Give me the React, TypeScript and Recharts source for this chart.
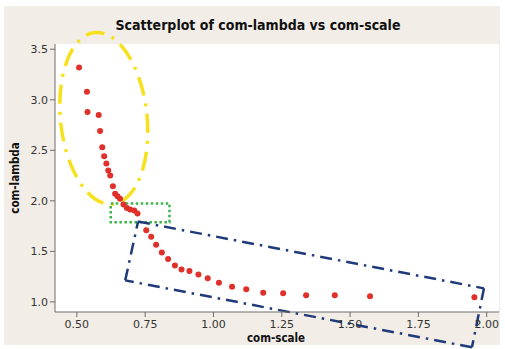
import React from 'react';
import {
  ScatterChart,
  Scatter,
  XAxis,
  YAxis,
  CartesianGrid,
  ReferenceArea,
  ReferenceLine,
} from 'recharts';

// com-scale / com-lambda pairs
const comScale = [
  0.508, 0.537, 0.539, 0.58, 0.585, 0.593, 0.6, 0.608, 0.615, 0.622, 0.632, 0.64, 0.649,
  0.658, 0.671, 0.683, 0.695, 0.71, 0.722, 0.754, 0.772, 0.79, 0.811, 0.834, 0.859, 0.883,
  0.912, 0.945, 0.979, 1.02, 1.068, 1.12, 1.182, 1.255, 1.339, 1.444, 1.573, 1.955,
];
const comLambda = [
  3.32, 3.08, 2.88, 2.85, 2.69, 2.53, 2.44, 2.37, 2.3, 2.25, 2.145, 2.07, 2.045,
  2.02, 1.965, 1.93, 1.915, 1.905, 1.875, 1.71, 1.645, 1.565, 1.49, 1.425, 1.36, 1.32,
  1.305, 1.27, 1.235, 1.19, 1.15, 1.125, 1.09, 1.085, 1.066, 1.065, 1.055, 1.045,
];

const xTicks = [0.5, 0.75, 1.0, 1.25, 1.5, 1.75, 2.0];
const yTicks = [1.0, 1.5, 2.0, 2.5, 3.0, 3.5];

const points = comScale.map((s, i) => ({ scale: s, lambda: comLambda[i] }));

// Highlight regions, in data units
const steepRegion = { x1: 0.44, x2: 0.757, y1: 1.963, y2: 3.67 };
const kneeRegion = { x1: 0.624, x2: 0.839, y1: 1.788, y2: 1.973 };
const flatRegion = [
  { x: 0.724, y: 1.795 },
  { x: 1.99, y: 1.134 },
  { x: 1.946, y: 0.551 },
  { x: 0.677, y: 1.213 },
];

const FONT = '"DejaVu Sans", Verdana, sans-serif';
const LABEL_FONT = '"DejaVu Sans Condensed", "DejaVu Sans", sans-serif';

const Dot = (props: any) => {
  const { cx, cy } = props;
  if (cx == null || cy == null) return null;
  return <circle cx={cx} cy={cy} r={3} fill="#e0302a" />;
};

const EllipseShape = (props: any) => {
  const { x, y, width, height } = props;
  const cx = x + width / 2;
  const cy = y + height / 2;
  return (
    <ellipse
      cx={cx}
      cy={cy}
      rx={Math.abs(width) / 2}
      ry={Math.abs(height) / 2}
      fill="none"
      stroke="#f7e11c"
      strokeWidth={3.5}
      strokeDasharray="19 8 3 8"
      transform={`rotate(-6 ${cx} ${cy})`}
    />
  );
};

const BoxShape = (props: any) => {
  const { x, y, width, height } = props;
  return (
    <rect
      x={x}
      y={y}
      width={width}
      height={height}
      fill="none"
      stroke="#3cb44b"
      strokeWidth={2.5}
      strokeDasharray="2.5 2.5"
    />
  );
};

export default function App() {
  const tickStyle = { fontFamily: FONT, fontSize: 11, fill: '#333' };
  const edges = flatRegion.map((p, i) => [p, flatRegion[(i + 1) % flatRegion.length]]);
  return (
    <div style={{ position: 'absolute', left: 0, top: 0, width: 505, height: 349, background: '#fff' }}>
      <div style={{ position: 'absolute', left: 4, top: 6, width: 496, height: 339, background: '#f2ede6' }} />
      <div style={{ position: 'absolute', left: 0, top: 0 }}>
        <ScatterChart width={505} height={349} margin={{ top: 44, right: 6, bottom: 7, left: 0 }}>
          <CartesianGrid fill="#ffffff" horizontal={false} vertical={false} />
          <XAxis
            type="number"
            dataKey="scale"
            domain={[0.42, 2.045]}
            ticks={xTicks}
            allowDataOverflow
            tickFormatter={(v: number) => v.toFixed(2)}
            tick={tickStyle}
            tickSize={5}
            tickMargin={3}
            height={30}
            stroke="#6d6d6d"
          />
          <YAxis
            type="number"
            dataKey="lambda"
            domain={[0.9, 3.552]}
            ticks={yTicks}
            allowDataOverflow
            tickFormatter={(v: number) => v.toFixed(1)}
            tick={tickStyle}
            tickSize={5}
            tickMargin={2}
            width={55}
            stroke="#6d6d6d"
          />
          <XAxis xAxisId="top" orientation="top" height={0} tick={false} tickLine={false} stroke="#6d6d6d" />
          <YAxis yAxisId="right" orientation="right" width={0} tick={false} tickLine={false} stroke="#6d6d6d" />
          <Scatter data={points} shape={Dot} isAnimationActive={false} />
          <ReferenceArea {...steepRegion} ifOverflow="visible" shape={EllipseShape} />
          <ReferenceArea {...kneeRegion} ifOverflow="visible" shape={BoxShape} />
          {edges.map((seg, i) => (
            <ReferenceLine
              key={i}
              segment={seg}
              ifOverflow="visible"
              stroke="#1e3a78"
              strokeWidth={2.5}
              strokeDasharray="12 6 2.5 6"
            />
          ))}
        </ScatterChart>
      </div>
      <div
        style={{
          position: 'absolute',
          left: 258,
          top: 18,
          transform: 'translateX(-50%)',
          whiteSpace: 'nowrap',
          fontFamily: LABEL_FONT,
          fontWeight: 'bold',
          fontSize: 14,
          lineHeight: '14px',
          color: '#111',
        }}
      >
        Scatterplot of com-lambda vs com-scale
      </div>
      <div
        style={{
          position: 'absolute',
          left: 276,
          top: 333,
          transform: 'translateX(-50%)',
          whiteSpace: 'nowrap',
          fontFamily: LABEL_FONT,
          fontWeight: 'bold',
          fontSize: 11.5,
          lineHeight: '11.5px',
          color: '#111',
        }}
      >
        com-scale
      </div>
      <div
        style={{
          position: 'absolute',
          left: 16,
          top: 178,
          transform: 'translate(-50%, -50%) rotate(-90deg)',
          whiteSpace: 'nowrap',
          fontFamily: LABEL_FONT,
          fontWeight: 'bold',
          fontSize: 11.5,
          lineHeight: '11.5px',
          color: '#111',
        }}
      >
        com-lambda
      </div>
    </div>
  );
}
